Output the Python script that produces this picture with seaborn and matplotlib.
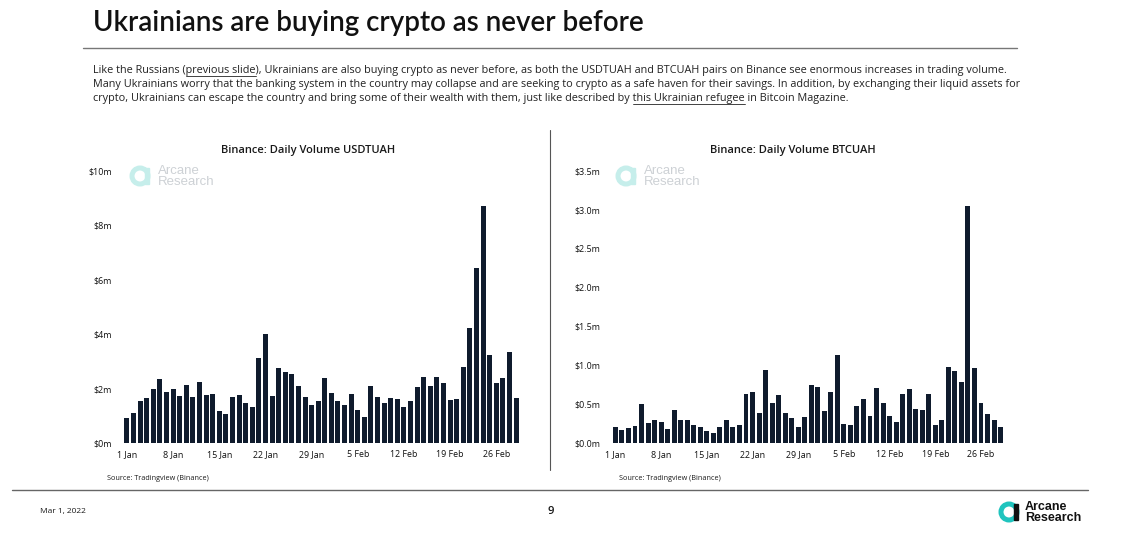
import seaborn as sns
import matplotlib.pyplot as plt
from matplotlib.patches import Circle, Rectangle
from matplotlib.lines import Line2D
import pandas as pd

# Daily volume, 1 Jan - 1 Mar 2022
dates = pd.date_range("2022-01-01", "2022-03-01", freq="D")

usdt_uah = [0.92, 1.10, 1.55, 1.67, 1.98, 2.36, 1.89, 1.98, 1.74, 2.13,
            1.70, 2.24, 1.77, 1.81, 1.19, 1.08, 1.70, 1.76, 1.47, 1.34,
            3.12, 4.01, 1.71, 2.74, 2.59, 2.52, 2.08, 1.69, 1.39, 1.55,
            2.37, 1.85, 1.55, 1.39, 1.81, 1.23, 0.95, 2.08, 1.69, 1.47,
            1.67, 1.60, 1.33, 1.55, 2.04, 2.42, 2.11, 2.42, 2.21, 1.58,
            1.60, 2.80, 4.23, 6.43, 8.72, 3.23, 2.20, 2.38, 3.35, 1.66]

btc_uah = [0.21, 0.17, 0.19, 0.22, 0.50, 0.26, 0.29, 0.27, 0.18, 0.43,
           0.29, 0.29, 0.23, 0.20, 0.15, 0.13, 0.21, 0.29, 0.21, 0.23,
           0.63, 0.65, 0.38, 0.94, 0.52, 0.62, 0.38, 0.32, 0.21, 0.33,
           0.74, 0.72, 0.41, 0.65, 1.13, 0.25, 0.23, 0.48, 0.57, 0.35,
           0.71, 0.51, 0.35, 0.27, 0.63, 0.70, 0.44, 0.42, 0.63, 0.23,
           0.30, 0.98, 0.92, 0.78, 3.04, 0.97, 0.51, 0.37, 0.30, 0.20]

tick_pos = [0, 7, 14, 21, 28, 35, 42, 49, 56]
tick_labels = ["1 Jan", "8 Jan", "15 Jan", "22 Jan", "29 Jan",
               "5 Feb", "12 Feb", "19 Feb", "26 Feb"]

usdt_yticks = [0, 2, 4, 6, 8, 10]
usdt_ylabels = ["$0m", "$2m", "$4m", "$6m", "$8m", "$10m"]
btc_yticks = [0, 0.5, 1.0, 1.5, 2.0, 2.5, 3.0, 3.5]
btc_ylabels = ["$0.0m", "$0.5m", "$1.0m", "$1.5m", "$2.0m", "$2.5m", "$3.0m", "$3.5m"]

df = pd.DataFrame({"day": dates.strftime("%Y-%m-%d"),
                   "usdt": usdt_uah, "btc": btc_uah})

sns.set_theme(style="white")
plt.rcParams['font.family'] = ['Open Sans', 'DejaVu Sans']

W, H = 1135, 552
fig = plt.figure(figsize=(W / 100, H / 100), dpi=100)
renderer = fig.canvas.get_renderer()

BAR = "#0f1b2d"
TXT = "#1a1a1a"


def fx(px):
    return px / W


def fy(py):
    return 1 - py / H


def text_width(s, **kw):
    t = fig.text(0, 0, s, **kw)
    w = t.get_window_extent(renderer).width
    t.remove()
    return w


def chart(left_px, width_px, col, yticks, ylabels, ymax, title, title_x):
    ax = fig.add_axes([fx(left_px), fy(443), fx(width_px), (443 - 170.7) / H])
    sns.barplot(data=df, x="day", y=col, color=BAR, width=0.76,
                saturation=1, linewidth=0, ax=ax)
    ax.set_xlim(-0.6, 59.6)
    ax.set_ylim(0, ymax)
    ax.set_xticks(tick_pos)
    ax.set_xticklabels(tick_labels)
    ax.set_yticks(yticks)
    ax.set_yticklabels(ylabels)
    ax.tick_params(axis="both", length=0, labelsize=6.4, colors="#111111")
    ax.tick_params(axis="y", pad=8)
    ax.tick_params(axis="x", pad=5)
    ax.set_xlabel("")
    ax.set_ylabel("")
    sns.despine(ax=ax, left=True, bottom=True)
    fig.text(fx(title_x), fy(150), title, ha="center", va="center",
             fontsize=8, fontweight="semibold", color=TXT)
    return ax


chart(123, 397, "usdt", usdt_yticks, usdt_ylabels, 10,
      "Binance: Daily Volume USDTUAH", 308)
chart(611.5, 393, "btc", btc_yticks, btc_ylabels, 3.5,
      "Binance: Daily Volume BTCUAH", 793)


def logo(cx, cy, r, ring, bar, txt, size, tx, weight):
    # ring + bar mark, drawn in inches so it stays round
    fig.patches.append(Circle((cx / 100, (H - cy) / 100), r / 100, fill=False,
                              lw=r * 0.45, edgecolor=ring,
                              transform=fig.dpi_scale_trans))
    fig.patches.append(Rectangle(((cx + r * 0.65) / 100, (H - cy - r * 1.05) / 100),
                                 r * 0.5 / 100, r * 2.1 / 100, color=bar,
                                 transform=fig.dpi_scale_trans))
    fig.text(fx(tx), fy(cy - r * 0.62), "Arcane", fontsize=size, color=txt,
             va="center", ha="left", fontweight=weight,
             family=["Liberation Sans", "DejaVu Sans"])
    fig.text(fx(tx), fy(cy + r * 0.72), "Research", fontsize=size, color=txt,
             va="center", ha="left", fontweight=weight,
             family=["Liberation Sans", "DejaVu Sans"])


# faint watermarks in the charts
logo(140, 176, 8, "#c6eeeb", "#c6eeeb", "#cdd1d5", 9.5, 158, "normal")
logo(626, 176, 8, "#c6eeeb", "#c6eeeb", "#cdd1d5", 9.5, 644, "normal")

# sources
fig.text(fx(107), fy(478), "Source: Tradingview (Binance)", fontsize=5.2,
         color=TXT, va="center")
fig.text(fx(619), fy(479), "Source: Tradingview (Binance)", fontsize=5.2,
         color=TXT, va="center")

# divider between the charts
fig.add_artist(Line2D([fx(550), fx(550)], [fy(130), fy(470)],
                      color="#555555", lw=0.8))

# header: size fitted so the title spans x=93..642 like the slide
title = "Ukrainians are buying crypto as never before"
tkw = dict(fontweight="semibold", family=["Lato", "DejaVu Sans"])
tsize = 19 * 549 / text_width(title, fontsize=19, **tkw)
fig.text(fx(93), fy(23), title, fontsize=tsize, color="#111111",
         va="center", **tkw)
fig.add_artist(Line2D([fx(83), fx(1017)], [fy(48), fy(48)],
                      color="#777777", lw=1))

para = [
    ("Like the Russians (previous slide), Ukrainians are also buying crypto as never before, "
     "as both the USDTUAH and BTCUAH pairs on Binance see enormous increases in trading volume.",
     "Like the Russians (", "previous slide"),
    ("Many Ukrainians worry that the banking system in the country may collapse and are seeking "
     "to crypto as a safe haven for their savings. In addition, by exchanging their liquid assets for",
     None, None),
    ("crypto, Ukrainians can escape the country and bring some of their wealth with them, "
     "just like described by this Ukrainian refugee in Bitcoin Magazine.",
     "crypto, Ukrainians can escape the country and bring some of their wealth with them, "
     "just like described by ", "this Ukrainian refugee"),
]

PSIZE = 7.8 * 922 / text_width(para[0][0], fontsize=7.8)
for i, (line, prefix, ul) in enumerate(para):
    y = 70 + i * 14
    fig.text(fx(93), fy(y), line, fontsize=PSIZE, color="#222222", va="center")
    if ul:
        x1 = 93 + text_width(prefix + ul, fontsize=PSIZE)
        x0 = x1 - text_width(ul, fontsize=PSIZE)
        fig.add_artist(Line2D([fx(x0), fx(x1)], [fy(y + 6), fy(y + 6)],
                              color="#222222", lw=0.6))

# footer
fig.add_artist(Line2D([fx(12), fx(1088)], [fy(490), fy(490)],
                      color="#666666", lw=1))
fig.text(fx(40), fy(512), "Mar 1, 2022", fontsize=6, color=TXT, va="center")
fig.text(fx(551), fy(512), "9", fontsize=8, fontweight="semibold",
         color=TXT, va="center", ha="center")
logo(1009, 512, 8, "#20c4be", "#111111", "#111111", 9, 1025, "bold")

fig.savefig("out.png", dpi=100, facecolor="white")
